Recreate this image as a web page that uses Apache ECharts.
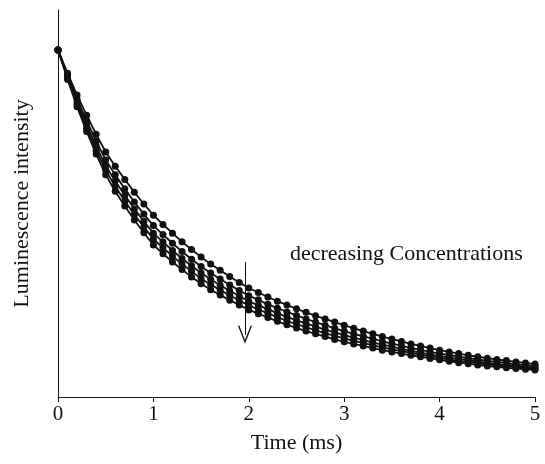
<!DOCTYPE html>
<html>
<head>
<meta charset="utf-8">
<script src="https://cdn.jsdelivr.net/npm/echarts@6/dist/echarts.min.js"></script>
<style>
  html, body { margin: 0; padding: 0; background: #fff; }
  #chart { width: 545px; height: 464px; }
</style>
</head>
<body>
<div id="chart"></div>
<script>
// time axis (ms)
var times = [0, 0.1, 0.2, 0.3, 0.4, 0.5, 0.6, 0.7, 0.8, 0.9,
  1.0, 1.1, 1.2, 1.3, 1.4, 1.5, 1.6, 1.7, 1.8, 1.9,
  2.0, 2.1, 2.2, 2.3, 2.4, 2.5, 2.6, 2.7, 2.8, 2.9,
  3.0, 3.1, 3.2, 3.3, 3.4, 3.5, 3.6, 3.7, 3.8, 3.9,
  4.0, 4.1, 4.2, 4.3, 4.4, 4.5, 4.6, 4.7, 4.8, 4.9, 5.0];

// decay curves, highest concentration first (start = 100)
var curveA = [100, 93.3, 87.0, 81.2, 75.7, 70.6, 66.5, 62.7, 59.0, 55.6,
  52.4, 49.7, 47.2, 44.7, 42.5, 40.3, 38.3, 36.5, 34.7, 33.0,
  31.4, 30.1, 28.8, 27.6, 26.5, 25.4, 24.4, 23.4, 22.5, 21.6,
  20.7, 19.8, 19.0, 18.2, 17.4, 16.7, 16.0, 15.3, 14.7, 14.1,
  13.5, 13.0, 12.5, 12.0, 11.6, 11.2, 10.8, 10.5, 10.1, 9.8, 9.5];
var curveB = [100, 92.7, 85.8, 79.6, 73.7, 68.3, 64.0, 60.0, 56.2, 52.7,
  49.4, 46.8, 44.3, 41.9, 39.7, 37.6, 35.7, 34.0, 32.3, 30.7,
  29.2, 28.0, 26.7, 25.6, 24.5, 23.5, 22.5, 21.6, 20.7, 19.8,
  19.0, 18.2, 17.5, 16.8, 16.0, 15.4, 14.8, 14.1, 13.6, 13.0,
  12.5, 12.1, 11.6, 11.2, 10.8, 10.4, 10.1, 9.8, 9.4, 9.2, 8.9];
var curveC = [100, 92.2, 85.0, 78.4, 72.3, 66.6, 62.2, 58.1, 54.2, 50.6,
  47.2, 44.7, 42.2, 39.9, 37.8, 35.7, 33.9, 32.2, 30.6, 29.1,
  27.6, 26.4, 25.3, 24.1, 23.1, 22.1, 21.2, 20.3, 19.4, 18.6,
  17.8, 17.1, 16.4, 15.7, 15.1, 14.5, 13.9, 13.3, 12.8, 12.3,
  11.8, 11.4, 10.9, 10.6, 10.2, 9.8, 9.5, 9.2, 9.0, 8.7, 8.5];
var curveD = [100, 91.9, 84.3, 77.4, 71.1, 65.3, 60.7, 56.5, 52.6, 49.0,
  45.5, 43.0, 40.6, 38.3, 36.2, 34.1, 32.4, 30.8, 29.3, 27.8,
  26.4, 25.2, 24.1, 23.0, 21.9, 21.0, 20.1, 19.2, 18.4, 17.6,
  16.9, 16.2, 15.6, 14.9, 14.3, 13.7, 13.2, 12.7, 12.2, 11.7,
  11.3, 10.8, 10.4, 10.1, 9.7, 9.4, 9.1, 8.8, 8.6, 8.4, 8.1];
var curveE = [100, 91.5, 83.6, 76.5, 70.0, 64.0, 59.3, 55.0, 51.0, 47.3,
  43.8, 41.3, 38.9, 36.7, 34.6, 32.6, 30.9, 29.4, 27.9, 26.5,
  25.1, 24.0, 22.9, 21.8, 20.8, 19.9, 19.0, 18.2, 17.4, 16.6,
  15.9, 15.3, 14.7, 14.1, 13.5, 13.0, 12.5, 12.0, 11.6, 11.1,
  10.7, 10.3, 9.9, 9.6, 9.2, 8.9, 8.7, 8.4, 8.2, 8.0, 7.8];

// arrow: time position, start and end intensity
var arrowTime = 1.96;
var arrowFrom = 38.9;
var arrowTo = 17.9;

var curves = [curveA, curveB, curveC, curveD, curveE];

var chart = echarts.init(document.getElementById('chart'));

var series = curves.map(function (c, i) {
  var s = {
    type: 'line',
    data: times.map(function (t, k) { return [t, c[k]]; }),
    symbol: 'circle',
    symbolSize: 7,
    showSymbol: true,
    lineStyle: { color: '#111', width: 1.8 },
    itemStyle: { color: '#111' },
    animation: false,
    z: 2
  };
  if (i === 0) {
    s.markLine = {
      silent: true,
      symbol: ['none', 'path://M5,0 L10,12 L9,12 L5,2.5 L1,12 L0,12 Z'],
      symbolSize: [14, 18],
      lineStyle: { color: '#111', width: 1, type: 'solid' },
      label: { show: false },
      data: [[{ coord: [arrowTime, arrowFrom] }, { coord: [arrowTime, arrowTo] }]]
    };
  }
  return s;
});

var option = {
  backgroundColor: '#fff',
  animation: false,
  grid: { left: 58, right: 10, top: 10, bottom: 67, containLabel: false },
  xAxis: {
    type: 'value',
    min: 0,
    max: 5,
    interval: 1,
    name: 'Time (ms)',
    nameLocation: 'middle',
    nameGap: 35,
    nameTextStyle: { fontFamily: 'Liberation Serif', fontSize: 22, color: '#111' },
    axisLine: { lineStyle: { color: '#111', width: 1 } },
    axisTick: { show: true, inside: false, length: 5, lineStyle: { color: '#111' } },
    axisLabel: { fontFamily: 'Liberation Serif', fontSize: 21, color: '#111', margin: 7 },
    splitLine: { show: false }
  },
  yAxis: {
    type: 'value',
    min: 0,
    max: 111.5,
    name: 'Luminescence intensity',
    nameLocation: 'middle',
    nameGap: 25,
    nameTextStyle: { fontFamily: 'Liberation Serif', fontSize: 22, color: '#111' },
    axisLine: { show: true, onZero: false, lineStyle: { color: '#111', width: 1 } },
    axisTick: { show: false },
    axisLabel: { show: false },
    splitLine: { show: false }
  },
  graphic: [{
    type: 'text',
    left: 290,
    top: 243,
    style: {
      text: 'decreasing Concentrations',
      font: '22px "Liberation Serif"',
      fill: '#111'
    }
  }],
  series: series
};

chart.setOption(option);
</script>
</body>
</html>
